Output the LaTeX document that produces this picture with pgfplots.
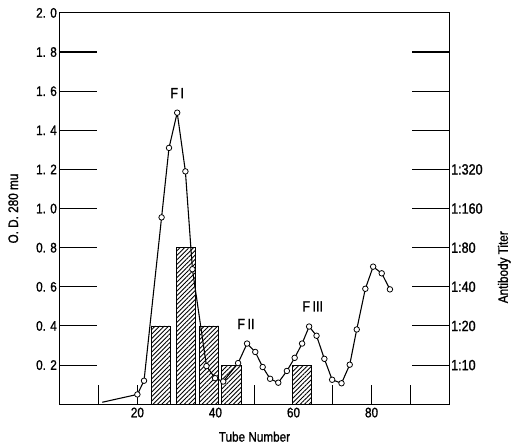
\documentclass[border=0pt]{standalone}
\usepackage{fontspec}
\setmainfont{Liberation Sans}[FakeStretch=0.85,FakeBold=1.2]
\usepackage{pgfplots}
\pgfplotsset{compat=1.18}
\usetikzlibrary{patterns.meta}

\begin{document}
\begin{tikzpicture}
\pgfplotsset{
  fig/.style={
    scale only axis, width=396pt, height=397pt,
    xmin=0, xmax=100, ymin=0, ymax=2,
    tick align=inside,
    axis line style={line width=0.9pt},
    every tick/.style={black, line width=1.1pt},
    ticklabel style={font=\fontsize{14}{16}\selectfont},
    label style={font=\fontsize{14}{16}\selectfont},
  }
}
\begin{axis}[fig,
    clip=false,
    xtick pos=bottom, ytick pos=left,
    xtick={10,20,30,40,50,60,70,80,90},
    xticklabels={,20,,40,,60,,80,},
    ytick={0.2,0.4,0.6,0.8,1.0,1.2,1.4,1.6,1.8},
    yticklabels={0. 2,0. 4,0. 6,0. 8,1. 0,1. 2,1. 4,1. 6,1. 8},
    extra y ticks={2.0}, extra y tick labels={2. 0},
    extra y tick style={ytick style={/pgfplots/major tick length=0pt}},
    xtick style={/pgfplots/major tick length=19pt},
    ytick style={/pgfplots/major tick length=38pt},
    yticklabel style={xshift=1pt},
    xlabel={Tube Number},
    ylabel={O. D. 280 mu},
    xlabel style={at={(axis description cs:0.5,-0.083)}, anchor=center},
    ylabel style={at={(axis description cs:-0.118,0.5)}, anchor=center},
  ]
  % bounding box matching the reference proportions
  \path (axis description cs:-0.152,-0.106) rectangle (axis description cs:1.149,1.033);
  % antibody titer bars
  \addplot[ybar, bar width=5, draw=black, line width=0.9pt, fill=white,
    postaction={pattern={Lines[angle=45,distance=3.2pt,line width=0.9pt]}}]
    coordinates {(26,0.4) (32.4,0.8) (38.3,0.4) (44.1,0.2) (62.2,0.2)};
  % O.D. curve
  \addplot[black, line width=1.1pt] coordinates {(11,0.01) (20,0.05)};
  \addplot[black, line width=1.1pt, mark=*, mark size=2.8pt,
    mark options={fill=white, line width=0.8pt}]
    coordinates {
      (20.0,0.05) (21.7,0.12) (26.2,0.955) (28.1,1.31) (30.2,1.49)
      (32.3,1.19) (34.1,0.69) (37.7,0.195) (39.9,0.133) (42.0,0.116)
      (45.8,0.21) (48.1,0.31) (50.2,0.267) (52.1,0.19) (54.0,0.13)
      (56.1,0.11) (58.3,0.17) (60.3,0.237) (62.2,0.31) (64.0,0.397)
      (65.9,0.35) (67.9,0.232) (69.9,0.125) (72.3,0.107) (74.4,0.202)
      (76.2,0.382) (78.4,0.59) (80.4,0.703) (82.6,0.669) (84.7,0.587)
    };
  \node[font=\fontsize{15}{16}\selectfont] at (axis cs:30.2,1.59) {F\,I};
  \node[font=\fontsize{15}{16}\selectfont] at (axis cs:47.8,0.41) {F\,II};
  \node[font=\fontsize{15}{16}\selectfont] at (axis cs:64.9,0.50) {F\,III};
\end{axis}
\begin{axis}[fig,
    axis y line*=right, axis x line=none,
    ytick={0.2,0.4,0.6,0.8,1.0,1.2,1.4,1.6,1.8},
    yticklabels={1:10,1:20,1:40,1:80,1:160,1:320,,,},
    major tick length=38pt,
    yticklabel style={xshift=-2pt, font=\fontsize{15}{16}\selectfont},
    ylabel={Antibody Titer},
    ylabel style={at={(axis description cs:1.14,0.35)}, anchor=center},
  ]
  \addplot[draw=none] coordinates {(0,0)};
\end{axis}
\end{tikzpicture}
\end{document}
